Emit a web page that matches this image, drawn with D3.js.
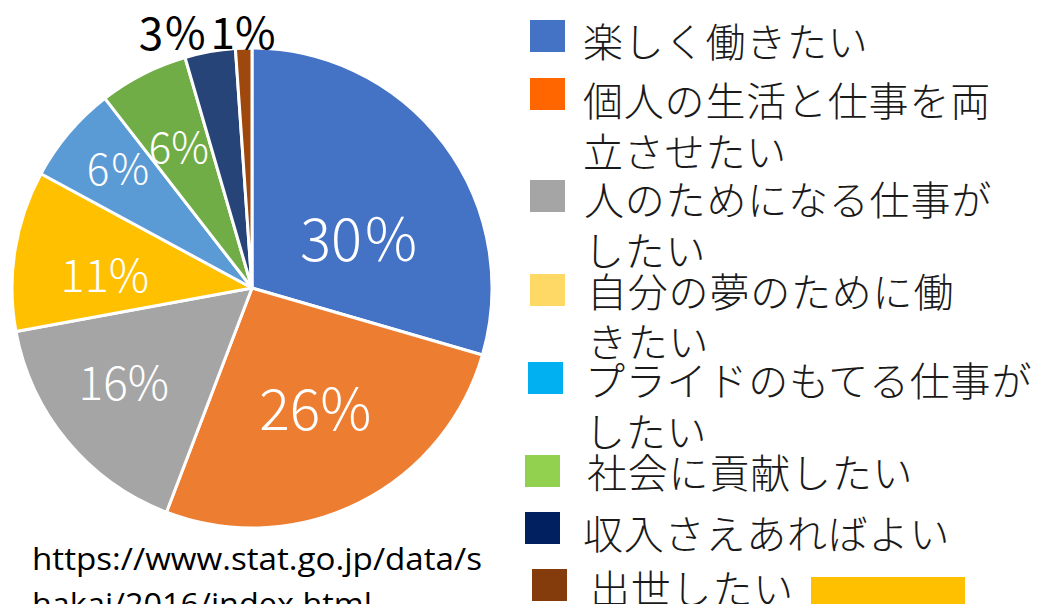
<!DOCTYPE html>
<html><head><meta charset="utf-8">
<script src="https://cdn.jsdelivr.net/npm/d3@7"></script>
<style>
html,body{margin:0;padding:0;background:#fff;}
svg{display:block;}
</style></head>
<body>
<svg id="chart" width="1055" height="604"></svg>
<script>
// ---- data ----
const categories = ["楽しく働きたい","個人の生活と仕事を両立させたい","人のためになる仕事がしたい","自分の夢のために働きたい","プライドのもてる仕事がしたい","社会に貢献したい","収入さえあればよい","出世したい"];
const legendLines = [["楽しく働きたい"],["個人の生活と仕事を両","立させたい"],["人のためになる仕事が","したい"],["自分の夢のために働","きたい"],["プライドのもてる仕事が","したい"],["社会に貢献したい"],["収入さえあればよい"],["出世したい"]];
const values = [29.5, 26.3, 16.3, 10.8, 6.6, 6.0, 3.4, 1.1];
const valueLabels = ["30％","26%","16%","11%","6％","6%","3％","1%"];
const sourceLines = ["https://www.stat.go.jp/data/s","hakai/2016/index.html"];

// ---- styles / layout ----
const sliceColors = ["#4472C4","#ED7D31","#A5A5A5","#FFC000","#5B9BD5","#70AD47","#264478","#9E480E"];
const legendColors = ["#4472C4","#FF6600","#A5A5A5","#FFD966","#00B0F0","#92D050","#002060","#843C0C"];
const labelColors = ["#fff","#fff","#fff","#fff","#fff","#fff","#000","#000"];
const labelSizes = [58,57,46,45,42,42,44,44];
const labelWeights = [300,300,300,300,300,300,400,400];
const labelRadius = [120,133,158,148,180,161,269,258];
const labelAngleShift = [11,-2,4,-3,2,0,-7,0];
const legendSquare = [[530,20],[530,78],[530,180],[530,274],[528,362],[525,455],[525,512],[532,569]];
const legendTextX = [583,583,584,587,585,587,583,590];
const legendTextY = [40,99,197.5,289.5,378.5,471,532,587];
const legendLineGap = [0,50.5,51,50.5,51,0,0,0];

const svg = d3.select("#chart");
const cx = 252, cy = 288, R = 240;
const font = "'Noto Sans CJK JP','Noto Sans',sans-serif";

const pie = d3.pie().sort(null).value(d => d);
const arcs = pie(values);
const arc = d3.arc().innerRadius(0).outerRadius(R);

const g = svg.append("g").attr("transform", `translate(${cx},${cy})`);
g.selectAll("path").data(arcs).join("path")
  .attr("d", arc)
  .attr("fill", (d,i) => sliceColors[i])
  .attr("stroke", "#fff")
  .attr("stroke-width", 3)
  .attr("stroke-linejoin", "round");

g.selectAll("text.lbl").data(arcs).join("text")
  .attr("class","lbl")
  .attr("x", (d,i) => { const a = (d.startAngle + d.endAngle)/2 + labelAngleShift[i]*Math.PI/180; return Math.sin(a)*labelRadius[i]; })
  .attr("y", (d,i) => { const a = (d.startAngle + d.endAngle)/2 + labelAngleShift[i]*Math.PI/180; return -Math.cos(a)*labelRadius[i]; })
  .attr("text-anchor","middle")
  .attr("dominant-baseline","central")
  .attr("font-family", font)
  .attr("font-weight", (d,i) => labelWeights[i])
  .attr("font-size", (d,i) => labelSizes[i])
  .attr("fill", (d,i) => labelColors[i])
  .text((d,i) => valueLabels[i]);

// legend
const lg = svg.append("g");
categories.forEach((c,i) => {
  lg.append("rect")
    .attr("x", legendSquare[i][0]).attr("y", legendSquare[i][1])
    .attr("width", 35).attr("height", 32)
    .attr("fill", legendColors[i]);
  legendLines[i].forEach((ln,j) => {
    lg.append("text")
      .attr("x", legendTextX[i])
      .attr("y", legendTextY[i] + j*legendLineGap[i])
      .attr("dominant-baseline","central")
      .attr("font-family", font)
      .attr("font-weight", 300)
      .attr("font-size", 40)
      .attr("letter-spacing", 0.8)
      .attr("fill", "#1a1a1a")
      .text(ln);
  });
});

// bar at bottom right
svg.append("rect").attr("x", 811).attr("y", 577).attr("width", 154).attr("height", 40).attr("fill", "#FFC000");

// source text
sourceLines.forEach((s,j) => {
  const t = svg.append("text")
    .attr("x", 32).attr("y", 570 + j*45)
    .attr("font-family", "'Open Sans','Noto Sans',sans-serif")
    .attr("font-size", 31)
    .attr("fill", "#000")
    .text(s);
  if (j === 0) t.attr("textLength", 450).attr("lengthAdjust", "spacingAndGlyphs");
  else t.attr("textLength", 340).attr("lengthAdjust", "spacingAndGlyphs");
});
</script>
</body></html>
